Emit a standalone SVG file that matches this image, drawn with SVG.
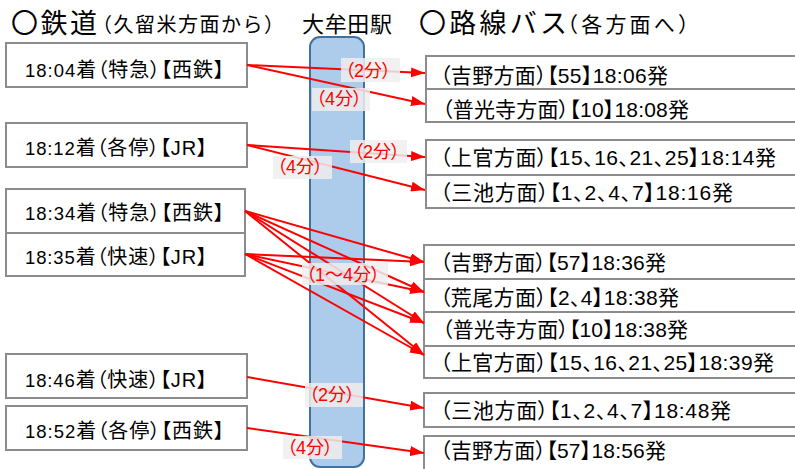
<svg xmlns="http://www.w3.org/2000/svg" width="795" height="469" viewBox="0 0 795 469">
<style>
text{font-family:"Liberation Sans","Noto Sans CJK JP",sans-serif;fill:#000}
.box{fill:#fff;stroke:#8c8c8c;stroke-width:2}
.lt{font-size:20px;font-feature-settings:"palt"}
.lt .d{font-size:18.5px}
.rt{font-size:21px;font-feature-settings:"palt"}
.ttl{font-size:27px}
.sub{font-size:20px}
.ln{stroke:#ff0000;stroke-width:2;fill:none;marker-end:url(#ah)}
.lb{fill:#eeeeef;fill-opacity:0.85}
.lbt{font-size:18px;fill:#ff0000;font-feature-settings:"palt"}
</style>
<defs>
<marker id="ah" markerUnits="userSpaceOnUse" viewBox="0 0 14 10" refX="14" refY="5" markerWidth="14" markerHeight="10" orient="auto">
<path d="M0,0 L14,5 L0,10 Z" fill="#ff0000"/>
</marker>
</defs>
<g id="titles">
<text class="ttl" x="11" y="33" textLength="86">〇鉄道</text>
<text class="sub" x="92" y="32" textLength="192">（久留米方面から）</text>
<text class="sub" x="302" y="32" style="font-size:22px" textLength="90">大牟田駅</text>
<text class="ttl" x="419" y="33" textLength="148">〇路線バス</text>
<text class="sub" x="557" y="32" style="font-size:21px" textLength="142">（各方面へ）</text>
</g>
<g id="station">
<rect x="310" y="37" width="54" height="430" rx="10" fill="#adcbea" stroke="#41719c" stroke-width="2"/>
</g>
<g id="arr1"><rect class="box" x="6" y="43" width="241" height="44"/><text class="lt" x="25" y="77" textLength="199"><tspan class="d">18:04</tspan>着（特急）【西鉄】</text></g>
<g id="arr2"><rect class="box" x="6" y="123" width="241" height="44"/><text class="lt" x="25" y="155" textLength="182"><tspan class="d">18:12</tspan>着（各停）【JR】</text></g>
<g id="arr3"><rect class="box" x="6" y="189" width="239" height="44"/><text class="lt" x="25" y="220" textLength="199"><tspan class="d">18:34</tspan>着（特急）【西鉄】</text></g>
<g id="arr4"><rect class="box" x="6" y="233" width="239" height="43"/><text class="lt" x="25" y="264" textLength="182"><tspan class="d">18:35</tspan>着（快速）【JR】</text></g>
<g id="arr5"><rect class="box" x="6" y="354" width="241" height="44"/><text class="lt" x="25" y="387" textLength="182"><tspan class="d">18:46</tspan>着（快速）【JR】</text></g>
<g id="arr6"><rect class="box" x="6" y="406" width="241" height="44"/><text class="lt" x="25" y="438" textLength="199"><tspan class="d">18:52</tspan>着（各停）【西鉄】</text></g>
<g id="bus1"><rect class="box" x="426" y="56" width="380" height="33"/><text class="rt" x="440" y="83" textLength="228">（吉野方面）【55】18:06発</text></g>
<g id="bus2"><rect class="box" x="426" y="89" width="380" height="33"/><text class="rt" x="442" y="117" textLength="247">（普光寺方面）【10】18:08発</text></g>
<g id="bus3"><rect class="box" x="426" y="140" width="380" height="35"/><text class="rt" x="440" y="165" textLength="336">（上官方面）【15、16、21、25】18:14発</text></g>
<g id="bus4"><rect class="box" x="426" y="175" width="380" height="33"/><text class="rt" x="440" y="200" textLength="293">（三池方面）【1、2、4、7】18:16発</text></g>
<g id="bus5"><rect class="box" x="424" y="245" width="380" height="34"/><text class="rt" x="440" y="270" textLength="226">（吉野方面）【57】18:36発</text></g>
<g id="bus6"><rect class="box" x="424" y="279" width="380" height="33"/><text class="rt" x="440" y="305" textLength="239">（荒尾方面）【2、4】18:38発</text></g>
<g id="bus7"><rect class="box" x="424" y="312" width="380" height="34"/><text class="rt" x="442" y="337" textLength="246">（普光寺方面）【10】18:38発</text></g>
<g id="bus8"><rect class="box" x="424" y="346" width="380" height="32"/><text class="rt" x="440" y="370" textLength="334">（上官方面）【15、16、21、25】18:39発</text></g>
<g id="bus9"><rect class="box" x="424" y="393" width="380" height="34"/><text class="rt" x="440" y="418" textLength="291">（三池方面）【1、2、4、7】18:48発</text></g>
<g id="bus10"><rect class="box" x="424" y="436" width="380" height="40"/><text class="rt" x="440" y="458" textLength="226">（吉野方面）【57】18:56発</text></g>
<g id="connectors">
<line class="ln" x1="247" y1="65" x2="425" y2="73"/>
<line class="ln" x1="247" y1="65" x2="425" y2="104"/>
<line class="ln" x1="247" y1="145" x2="425" y2="157"/>
<line class="ln" x1="247" y1="145" x2="425" y2="190"/>
<line class="ln" x1="245" y1="211" x2="424" y2="262"/>
<line class="ln" x1="245" y1="211" x2="424" y2="292"/>
<line class="ln" x1="245" y1="211" x2="424" y2="323"/>
<line class="ln" x1="245" y1="211" x2="424" y2="355"/>
<line class="ln" x1="245" y1="254" x2="424" y2="262"/>
<line class="ln" x1="245" y1="254" x2="424" y2="292"/>
<line class="ln" x1="245" y1="254" x2="424" y2="323"/>
<line class="ln" x1="245" y1="254" x2="424" y2="355"/>
<line class="ln" x1="247" y1="377" x2="424" y2="408"/>
<line class="ln" x1="247" y1="428" x2="424" y2="453"/>
</g>
<g id="labels">
<rect class="lb" x="341" y="58" width="59" height="24"/><text class="lbt" x="345" y="77">（2分）</text>
<rect class="lb" x="312" y="88" width="58" height="23"/><text class="lbt" x="316" y="105">（4分）</text>
<rect class="lb" x="350" y="140" width="57" height="23"/><text class="lbt" x="354" y="158">（2分）</text>
<rect class="lb" x="273" y="156" width="59" height="23"/><text class="lbt" x="277" y="173">（4分）</text>
<rect class="lb" x="302" y="263" width="86" height="22"/><text class="lbt" x="306" y="281">（1〜4分）</text>
<rect class="lb" x="305" y="383" width="58" height="24"/><text class="lbt" x="309" y="401">（2分）</text>
<rect class="lb" x="283" y="436" width="59" height="23"/><text class="lbt" x="287" y="454">（4分）</text>
</g>
</svg>
